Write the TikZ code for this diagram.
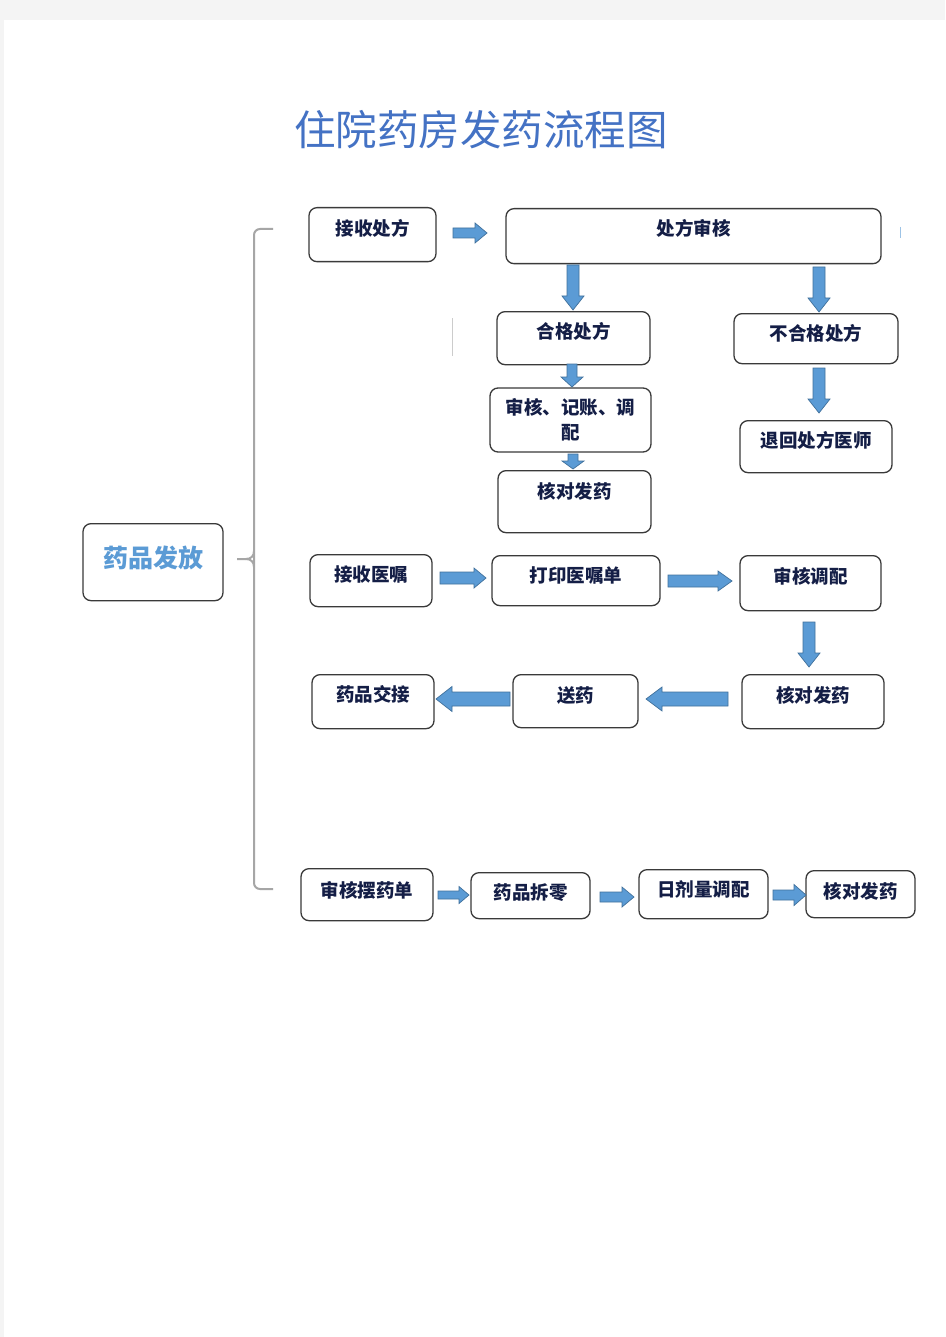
\documentclass[tikz,border=0pt]{standalone}
\usepackage{fontspec}
\newfontfamily\cjk{Noto Sans CJK SC}
\usetikzlibrary{calc}
\definecolor{pagegray}{HTML}{F4F4F4}
\definecolor{titleblue}{HTML}{4472C4}
\definecolor{labelblue}{HTML}{5B9BD5}
\definecolor{txt}{HTML}{141E46}
\definecolor{arrfill}{HTML}{5B9BD5}
\definecolor{arredge}{HTML}{41719C}
\definecolor{boxedge}{HTML}{3A3A3A}
\definecolor{bracegray}{HTML}{A6A6A6}
\tikzset{
  box/.style={draw=boxedge, line width=1.3pt, rounded corners=8pt, fill=white,
    inner xsep=0pt, inner ysep=0pt, anchor=north, text=txt,
    font=\cjk\bfseries\fontsize{18.5}{20}\selectfont},
  barrowst/.style={fill=arrfill, draw=arredge, line width=0.7pt, line join=miter},
  bracest/.style={draw=bracegray, line width=2pt}
}
% block arrow from #1 to #2, shaft half width #3, head half width #4, head length #5
\newcommand\barrow[5]{%
  \path[barrowst] let \p1=(#1), \p2=(#2),
    \n1={atan2(\y2-\y1,\x2-\x1)}, \n2={veclen(\x2-\x1,\y2-\y1)} in
    [rotate around={\n1:(\p1)}]
    (\p1) ++(0,#3) -- ++({\n2-#5},0) -- ++(0,{#4-#3}) -- ++(#5,{-#4})
    -- ++({-#5},{-#4}) -- ++(0,{#4-#3}) -- ++({#5-\n2},0) -- cycle;}
\begin{document}
\begin{tikzpicture}[x=1pt,y=-1pt]
\useasboundingbox (0,0) rectangle (945,1337);
\fill[pagegray] (0,0) rectangle (945,1337);
\fill[white] (4,20) rectangle (945,1337);

% title
\node[font=\cjk\fontsize{41.5}{42}\selectfont, text=titleblue, inner sep=0pt] (title) at (481,130) {住院药房发药流程图};

% brace
\draw[bracest, rounded corners=6pt] (273,229) -- (254,229) -- (254,889) -- (273,889);
\draw[bracest] (237,559) -- (246,559) .. controls (251,559) and (254,556) .. (254,551);
\draw[bracest] (246,559) .. controls (251,559) and (254,562) .. (254,567);

% small artifacts
\draw[gray!40, line width=1pt] (452,318) -- (452,356);
\draw[labelblue!60, line width=1pt] (900,227) -- (900,238);

% left node
\node[box, minimum width=140pt, text height=43.5pt, text depth=33.5pt, text=labelblue,
  font=\cjk\bfseries\fontsize{25}{27}\selectfont] (fa) at (153,523) {药品发放};

% section 1
\node[box, minimum width=127pt, text height=28pt, text depth=26pt] (n1) at (372.5,207) {接收处方};
\node[box, minimum width=375pt, text height=27pt, text depth=28pt] (n2) at (693.5,208) {处方审核};
\node[box, minimum width=153pt, text height=27pt, text depth=26pt] (n3) at (573.5,311) {合格处方};
\node[box, minimum width=164pt, text height=27pt, text depth=23pt] (n4) at (816,313) {不合格处方};
\node[box, anchor=center, minimum width=161pt, minimum height=64pt, align=center,
  font=\cjk\bfseries\fontsize{18.5}{25}\selectfont] (n5) at (570.5,420) {审核、记账、调\\配};
\node[box, minimum width=153pt, text height=28pt, text depth=34pt] (n6) at (574.5,470) {核对发药};
\node[box, minimum width=152pt, text height=27pt, text depth=25pt] (n7) at (816,420) {退回处方医师};

% section 2
\node[box, minimum width=122pt, text height=27pt, text depth=25pt] (n9) at (371,554) {接收医嘱};
\node[box, minimum width=168pt, text height=27pt, text depth=23pt] (n10) at (576,555) {打印医嘱单};
\node[box, minimum width=141pt, text height=28pt, text depth=27pt] (n11) at (810.5,555) {审核调配};
\node[box, minimum width=142pt, text height=28pt, text depth=26pt] (n12) at (813,674) {核对发药};
\node[box, minimum width=125pt, text height=28pt, text depth=25pt] (n13) at (575.5,674) {送药};
\node[box, minimum width=122pt, text height=27pt, text depth=27pt] (n14) at (373,674) {药品交接};

% section 3
\node[box, minimum width=132pt, text height=29pt, text depth=23pt] (n15) at (367,868) {审核摆药单};
\node[box, minimum width=119pt, text height=27pt, text depth=19pt] (n16) at (530.5,872) {药品拆零};
\node[box, minimum width=129pt, text height=27pt, text depth=22pt] (n17) at (703.5,869) {日剂量调配};
\node[box, minimum width=109pt, text height=28pt, text depth=19pt] (n18) at (860.5,870) {核对发药};

% arrow end points
\coordinate (a1s) at (453,233);  \coordinate (a1e) at (487,233);
\coordinate (a2s) at (573,265);  \coordinate (a2e) at (573,310);
\coordinate (a3s) at (819,267);  \coordinate (a3e) at (819,312);
\coordinate (a4s) at (572,364);  \coordinate (a4e) at (572,387);
\coordinate (a5s) at (573,454);  \coordinate (a5e) at (573,469);
\coordinate (a6s) at (819,368);  \coordinate (a6e) at (819,413);
\coordinate (a7s) at (440,578);  \coordinate (a7e) at (486,578);
\coordinate (a8s) at (668,581);  \coordinate (a8e) at (732,581);
\coordinate (a9s) at (809,622);  \coordinate (a9e) at (809,667);
\coordinate (a10s) at (728,699); \coordinate (a10e) at (646,699);
\coordinate (a11s) at (510,699); \coordinate (a11e) at (436,699);
\coordinate (a12s) at (438,895); \coordinate (a12e) at (469,895);
\coordinate (a13s) at (600,897); \coordinate (a13e) at (634,897);
\coordinate (a14s) at (773,895); \coordinate (a14e) at (806,895);

\barrow{a1s}{a1e}{5}{10}{12}
\barrow{a2s}{a2e}{6}{11}{14}
\barrow{a3s}{a3e}{6}{11}{14}
\barrow{a4s}{a4e}{5}{11}{10}
\barrow{a5s}{a5e}{5}{11}{8}
\barrow{a6s}{a6e}{6}{11}{14}
\barrow{a7s}{a7e}{6}{10}{12}
\barrow{a8s}{a8e}{6}{10}{14}
\barrow{a9s}{a9e}{6}{11}{14}
\barrow{a10s}{a10e}{7}{12}{16}
\barrow{a11s}{a11e}{7}{12.5}{16}
\barrow{a12s}{a12e}{4}{8.5}{10}
\barrow{a13s}{a13e}{5}{10}{12}
\barrow{a14s}{a14e}{5}{10.5}{12}
\end{tikzpicture}
\end{document}
